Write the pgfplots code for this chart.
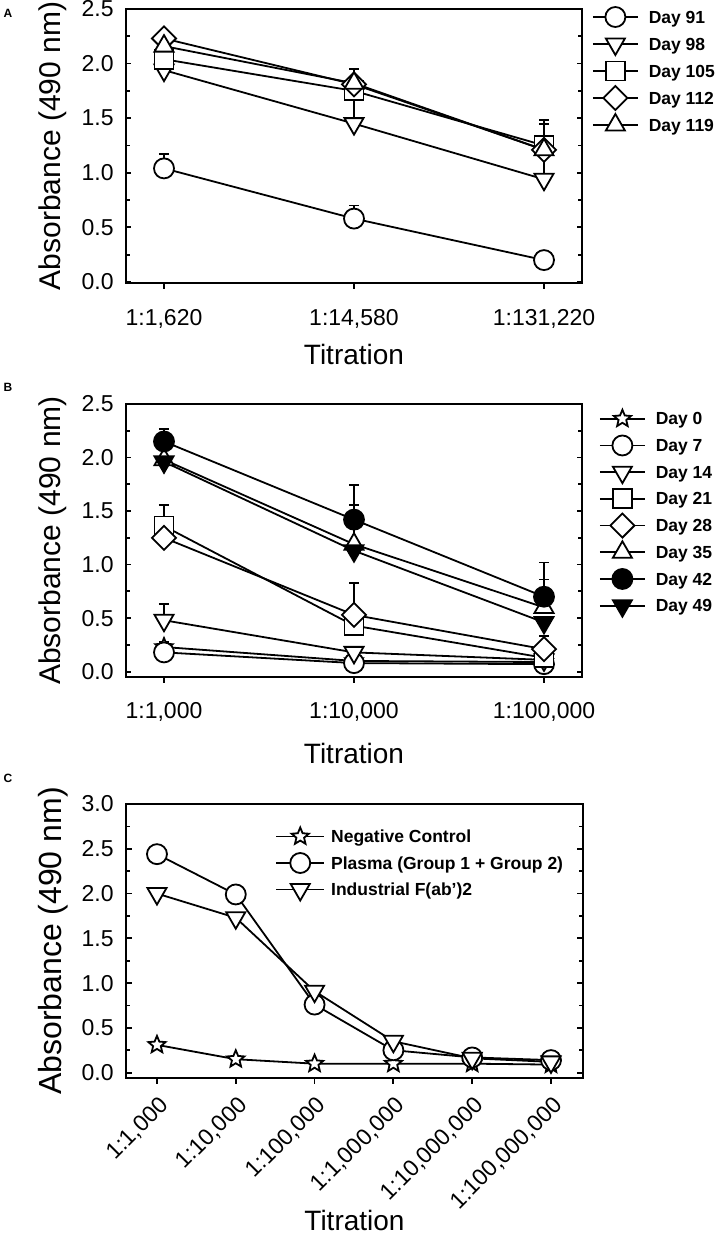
\documentclass[border=0pt]{standalone}
\usepackage{fontspec}
\setmainfont{Liberation Sans}
\usepackage{pgfplots}
\pgfplotsset{compat=1.18}

\pgfdeclareplotmark{ostar}{%
  \pgfpathmoveto{\pgfpointpolar{90}{\pgfplotmarksize}}%
  \pgfpathlineto{\pgfpointpolar{126}{0.45\pgfplotmarksize}}%
  \pgfpathlineto{\pgfpointpolar{162}{\pgfplotmarksize}}%
  \pgfpathlineto{\pgfpointpolar{198}{0.45\pgfplotmarksize}}%
  \pgfpathlineto{\pgfpointpolar{234}{\pgfplotmarksize}}%
  \pgfpathlineto{\pgfpointpolar{270}{0.45\pgfplotmarksize}}%
  \pgfpathlineto{\pgfpointpolar{306}{\pgfplotmarksize}}%
  \pgfpathlineto{\pgfpointpolar{342}{0.45\pgfplotmarksize}}%
  \pgfpathlineto{\pgfpointpolar{18}{\pgfplotmarksize}}%
  \pgfpathlineto{\pgfpointpolar{54}{0.45\pgfplotmarksize}}%
  \pgfpathclose
  \pgfusepathqfillstroke
}

\newcommand{\lblfont}{\fontsize{14}{16}\selectfont}
\newcommand{\ylblfont}{\fontsize{15}{17}\selectfont}

\pgfplotsset{
  panel/.style={
    scale only axis, clip=false,
    axis line style={line width=1pt},
    xtick align=outside, ytick align=inside,
    xtick pos=left, ytick pos=both,
    major tick length=2.75pt, minor tick length=2pt,
    every tick/.style={black, line width=0.9pt},
    minor y tick num=1,
    tick label style={font=\fontsize{11.5}{13}\selectfont},
    /pgf/number format/assume math mode=true,
    yticklabel style={/pgf/number format/fixed, /pgf/number format/fixed zerofill,
      /pgf/number format/precision=1, inner sep=0pt, anchor=east, xshift=-6pt},
    ylabel={Absorbance (490 nm)}, xlabel={Titration},
    legend style={draw=none, fill=none, inner sep=0pt, outer sep=0pt, anchor=north west,
      row sep=0pt, font=\bfseries\fontsize{8.75}{10}\selectfont,
      nodes={inner sep=0pt, text depth=0pt, anchor=west},
      /tikz/every odd column/.append style={column sep=5pt}},
    legend cell align=left,
    legend image code/.code={%
      \path[draw=none, fill=none] (0pt,-6.75pt) rectangle (22.5pt,6.75pt);
      \draw[mark repeat=2,mark phase=2,##1] plot coordinates {(0pt,0pt) (11.25pt,0pt) (22.5pt,0pt)};},
    every axis plot/.append style={black, line width=0.9pt},
    error bars/error bar style={line width=0.9pt, solid},
    error bars/error mark options={rotate=90, mark size=2.5pt, line width=0.9pt},
  },
  mcirc/.style={mark=*, mark size=5pt, mark options={fill=white, solid}},
  mcircf/.style={mark=*, mark size=5pt, mark options={fill=black, solid}},
  mdown/.style={mark=triangle*, mark size=5.5pt, mark options={fill=white, rotate=180, solid}},
  mdownf/.style={mark=triangle*, mark size=5.5pt, mark options={fill=black, rotate=180, solid}},
  mup/.style={mark=triangle*, mark size=5.5pt, mark options={fill=white, solid}},
  msq/.style={mark=square*, mark size=4.75pt, mark options={fill=white, solid}},
  mdia/.style={mark=square*, mark size=4.25pt, mark options={fill=white, rotate=45, solid}},
  mstar/.style={mark=ostar, mark size=4.5pt, mark options={fill=white, solid}},
  ebar/.style={error bars/.cd, y dir=plus, y explicit},
}

\begin{document}
\begin{tikzpicture}

% ---------------- Panel A ----------------
\begin{axis}[panel,
  at={(63pt,-141.5pt)}, anchor=south west,
  width=228pt, height=137pt,
  xmin=-0.2, xmax=2.2, ymin=-0.01, ymax=2.5,
  ytick={0,0.5,1,1.5,2,2.5},
  xtick={0,1,2},
  xticklabels={{1:1,620},{1:14,580},{1:131,220}},
  xticklabel style={inner sep=0pt, anchor=base, yshift=-18.5pt},
  every axis y label/.style={at={(rel axis cs:-0.1447,0.5)}, rotate=90, anchor=base, font=\ylblfont},
  every axis x label/.style={at={(rel axis cs:0.5,-0.299)}, anchor=base, font=\lblfont},
  legend style={at={(1.0219,1.0201)}},
  legend entries={Day 91, Day 98, Day 105, Day 112, Day 119},
]
\addplot[mcirc, ebar] coordinates {(0,1.04) +- (0,0.13) (1,0.58) +- (0,0.12) (2,0.20) +- (0,0)};
\addplot[mdown, ebar] coordinates {(0,1.94) +- (0,0) (1,1.45) +- (0,0.28) (2,0.94) +- (0,0.26)};
\addplot[msq, ebar] coordinates {(0,2.04) +- (0,0) (1,1.75) +- (0,0.20) (2,1.25) +- (0,0.23)};
\addplot[mdia] coordinates {(0,2.23) (1,1.81) (2,1.21)};
\addplot[mup, ebar] coordinates {(0,2.16) +- (0,0) (1,1.82) +- (0,0.13) (2,1.21) +- (0,0.24)};
\end{axis}

% ---------------- Panel B ----------------
\begin{axis}[panel,
  at={(63pt,-338.5pt)}, anchor=south west,
  width=228pt, height=136.5pt,
  xmin=-0.2, xmax=2.2, ymin=-0.05, ymax=2.5,
  ytick={0,0.5,1,1.5,2,2.5},
  xtick={0,1,2},
  xticklabels={{1:1,000},{1:10,000},{1:100,000}},
  xticklabel style={inner sep=0pt, anchor=base, yshift=-18pt},
  every axis y label/.style={at={(rel axis cs:-0.1447,0.5)}, rotate=90, anchor=base, font=\ylblfont},
  every axis x label/.style={at={(rel axis cs:0.5,-0.315)}, anchor=base, font=\lblfont},
  legend style={at={(1.0373,0.9954)}, row sep=-0.15pt},
  legend entries={Day 0, Day 7, Day 14, Day 21, Day 28, Day 35, Day 42, Day 49},
]
\addplot[mstar, ebar] coordinates {(0,0.23) +- (0,0.05) (1,0.10) +- (0,0) (2,0.09) +- (0,0)};
\addplot[mcirc] coordinates {(0,0.18) (1,0.08) (2,0.07)};
\addplot[mdown, ebar] coordinates {(0,0.48) +- (0,0.15) (1,0.18) +- (0,0) (2,0.11) +- (0,0)};
\addplot[msq, ebar] coordinates {(0,1.36) +- (0,0.20) (1,0.43) +- (0,0) (2,0.13) +- (0,0)};
\addplot[mdia, ebar] coordinates {(0,1.25) +- (0,0) (1,0.53) +- (0,0.30) (2,0.21) +- (0,0.12)};
\addplot[mup, ebar] coordinates {(0,1.98) +- (0,0) (1,1.19) +- (0,0.37) (2,0.60) +- (0,0.26)};
\addplot[mcircf, ebar] coordinates {(0,2.15) +- (0,0.12) (1,1.42) +- (0,0.32) (2,0.70) +- (0,0.32)};
\addplot[mdownf] coordinates {(0,1.96) (1,1.13) (2,0.46)};
\end{axis}

% ---------------- Panel C ----------------
\begin{axis}[panel,
  at={(63pt,-539pt)}, anchor=south west,
  width=228.5pt, height=137pt,
  xmin=-0.393, xmax=5.406, ymin=-0.06, ymax=3.0,
  ytick={0,0.5,1,1.5,2,2.5,3},
  xtick={0,1,2,3,4,5},
  xticklabels={{1:1,000},{1:10,000},{1:100,000},{1:1,000,000},{1:10,000,000},{1:100,000,000}},
  xticklabel style={inner sep=0pt, anchor=east, xshift=4pt, yshift=-9pt, rotate=45},
  every axis y label/.style={at={(rel axis cs:-0.142,0.5)}, rotate=90, anchor=base, font=\fontsize{16}{18}\selectfont},
  every axis x label/.style={at={(rel axis cs:0.5,-0.555)}, anchor=base, font=\lblfont},
  legend style={at={(0.3268,0.9307)}, row sep=-0.25pt,
    /tikz/every odd column/.append style={column sep=3pt}},
  legend image code/.code={%
      \path[draw=none, fill=none] (0pt,-6.75pt) rectangle (24pt,6.75pt);
      \draw[mark repeat=2,mark phase=2,#1] plot coordinates {(0pt,0pt) (12pt,0pt) (24pt,0pt)};},
  legend entries={Negative Control, Plasma (Group 1 + Group 2), Industrial F(ab')2},
]
\addplot[mstar] coordinates {(0,0.31) (1,0.15) (2,0.10) (3,0.10) (4,0.10) (5,0.09)};
\addplot[mcirc] coordinates {(0,2.44) (1,1.99) (2,0.76) (3,0.25) (4,0.17) (5,0.14)};
\addplot[mdown] coordinates {(0,2.00) (1,1.73) (2,0.91) (3,0.35) (4,0.16) (5,0.12)};
\end{axis}

\node[font=\bfseries\fontsize{6}{7}\selectfont] at (4pt,-6.5pt) {A};
\node[font=\bfseries\fontsize{6}{7}\selectfont] at (4pt,-193.5pt) {B};
\node[font=\bfseries\fontsize{6}{7}\selectfont] at (4pt,-389pt) {C};

\pgfresetboundingbox
\path[use as bounding box] (0pt,0pt) rectangle (359.5pt,-616.5pt);
\end{tikzpicture}
\end{document}
